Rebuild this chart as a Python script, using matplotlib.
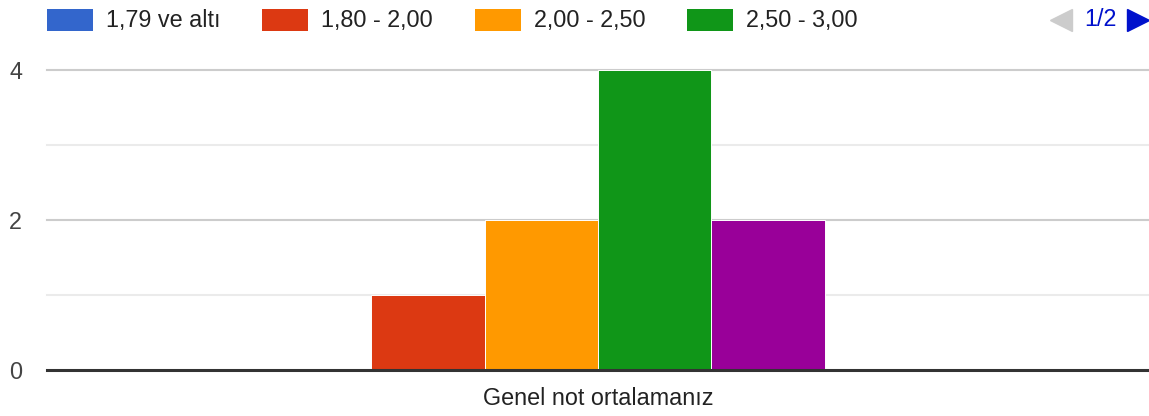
import matplotlib

matplotlib.use("Agg")
import matplotlib.pyplot as plt
import numpy as np
from matplotlib.lines import Line2D
from matplotlib.patches import Patch

plt.rcParams["font.family"] = ["Liberation Sans", "DejaVu Sans"]

# one question, six answer buckets (legend page 1 shows the first four)
category = "Genel not ortalamanız"
series = ["1,79 ve altı", "1,80 - 2,00", "2,00 - 2,50", "2,50 - 3,00",
          "3,00 - 3,50", "3,50 - 4,00"]
counts = [0, 1, 2, 4, 2, 0]
colors = ["#3366cc", "#dc3912", "#ff9900", "#109618", "#990099", "#0099c6"]
legend_shown = 4
page_label = "1/2"

W, H = 1149, 416
fig = plt.figure(figsize=(W / 100, H / 100), dpi=100)
ax = fig.add_axes([47 / W, 1 - 370 / H, 1 - 47 / W, 300 / H])

n = len(series)
width = 0.1029
for j, (name, v, c) in enumerate(zip(series, counts, colors)):
    ax.bar((j - (n - 1) / 2) * width, v, width, color=c, edgecolor="white",
           linewidth=0.7, label=name, zorder=3)

ax.set_xlim(-0.5, 0.5)
ax.set_ylim(0, 4)
for y in [1, 3]:
    ax.axhline(y, color="#ebebeb", lw=1.5, zorder=1, clip_on=False)
for y in [2, 4]:
    ax.axhline(y, color="#cccccc", lw=1.5, zorder=1, clip_on=False)
ax.axhline(0, color="#333333", lw=2.2, zorder=4, clip_on=False)

for s in ax.spines.values():
    s.set_visible(False)
ax.set_yticks([0, 2, 4])
ax.set_yticklabels(["0", "2", "4"])
ax.set_xticks([0])
ax.set_xticklabels([category])
ax.tick_params(axis="y", length=0, pad=18, labelsize=16.8, labelcolor="#444444")
ax.tick_params(axis="x", length=0, pad=12, labelsize=16.8, labelcolor="#222222")

handles = [Patch(facecolor=c, edgecolor="none") for c in colors[:legend_shown]]
fig.legend(handles, series[:legend_shown], loc="upper left",
           bbox_to_anchor=(47 / W, 1 - 9 / H), ncol=legend_shown, frameon=False,
           fontsize=16.8, handlelength=1.97, handleheight=0.94,
           handletextpad=0.55, columnspacing=1.8, borderpad=0, borderaxespad=0,
           labelcolor="#222222")
for p in fig.legends[0].get_patches():
    p.set_height(p.get_height() * 1.12)
    p.set_y(p.get_y() - 1.5)

# legend pager
fig.add_artist(Line2D([1061 / W], [1 - 20 / H], marker="<", markersize=16,
                      color="#cccccc", transform=fig.transFigure))
fig.text(1100 / W, 1 - 20 / H, page_label, color="#0011cc", fontsize=16.8,
         ha="center", va="center")
fig.add_artist(Line2D([1138 / W], [1 - 20 / H], marker=">", markersize=16,
                      color="#0011cc", transform=fig.transFigure))

fig.savefig("out.png", dpi=100)
